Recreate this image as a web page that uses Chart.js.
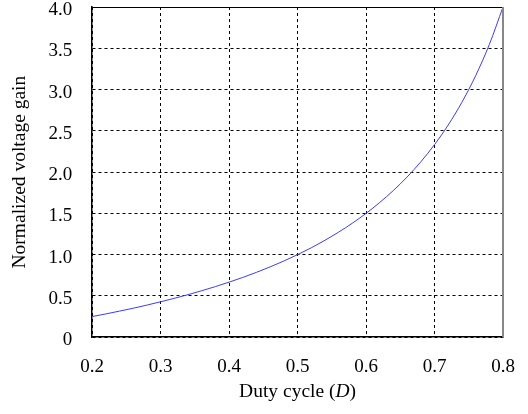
<!DOCTYPE html>
<html>
<head>
<meta charset="utf-8">
<script src="https://cdn.jsdelivr.net/npm/chart.js@4/dist/chart.umd.min.js"></script>
<style>
  html, body { margin: 0; padding: 0; background: #fff; }
  #wrap { width: 528px; height: 414px; }
</style>
</head>
<body>
<div id="wrap"><canvas id="gainChart"></canvas></div>
<script>
// Duty cycle values (x) and the normalized voltage gain read at each one (y)
var dutyCycle = [0.20, 0.22, 0.24, 0.26, 0.28, 0.30, 0.32, 0.34, 0.36, 0.38,
                 0.40, 0.42, 0.44, 0.46, 0.48, 0.50, 0.52, 0.54, 0.56, 0.58,
                 0.60, 0.62, 0.64, 0.66, 0.68, 0.70, 0.72, 0.74, 0.76, 0.78, 0.80];
var voltageGain = [0.250, 0.282, 0.316, 0.351, 0.389, 0.429, 0.471, 0.515, 0.563, 0.613,
                   0.667, 0.724, 0.786, 0.852, 0.923, 1.000, 1.083, 1.174, 1.273, 1.381,
                   1.500, 1.632, 1.778, 1.941, 2.125, 2.333, 2.571, 2.846, 3.167, 3.545, 4.000];

var xTicks = [0.2, 0.3, 0.4, 0.5, 0.6, 0.7, 0.8];
var yTicks = [0, 0.5, 1.0, 1.5, 2.0, 2.5, 3.0, 3.5, 4.0];

var serif = "'Liberation Serif', 'Times New Roman', serif";

var points = [];
for (var i = 0; i < dutyCycle.length; i++) {
    points.push({ x: dutyCycle[i], y: voltageGain[i] });
}

// top and right edges of the frame, plus the x title with an italic D
var framePlugin = {
    id: 'frame',
    afterDraw: function(chart) {
        var ctx = chart.ctx, a = chart.chartArea;
        ctx.save();
        ctx.lineWidth = 1;
        ctx.strokeStyle = '#000';
        ctx.beginPath();
        ctx.moveTo(a.left, a.top + 0.5);
        ctx.lineTo(a.right, a.top + 0.5);
        ctx.stroke();
        ctx.strokeStyle = '#888';
        ctx.lineWidth = 2;
        ctx.beginPath();
        ctx.moveTo(a.right, a.top);
        ctx.lineTo(a.right, a.bottom);
        ctx.stroke();

        var parts = [['Duty cycle (', 'normal'], ['D', 'italic'], [')', 'normal']];
        var total = 0;
        parts.forEach(function(p) {
            ctx.font = p[1] + ' 19.5px ' + serif;
            total += ctx.measureText(p[0]).width;
        });
        var x = (a.left + a.right) / 2 - total / 2;
        ctx.fillStyle = '#000';
        ctx.textBaseline = 'middle';
        parts.forEach(function(p) {
            ctx.font = p[1] + ' 19.5px ' + serif;
            ctx.fillText(p[0], x, 392);
            x += ctx.measureText(p[0]).width;
        });
        ctx.restore();
    }
};

var gridColor = function(edge) {
    return function(c) {
        return (c.tick && c.tick.value === edge) ? 'rgba(0,0,0,0)' : '#000';
    };
};

var ctx = document.getElementById('gainChart').getContext('2d');
var chart = new Chart(ctx, {
    type: 'line',
    data: {
        datasets: [{
            data: points,
            borderColor: '#3b3bff',
            borderWidth: 1,
            pointRadius: 0,
            fill: false,
            cubicInterpolationMode: 'monotone'
        }]
    },
    options: {
        responsive: true,
        maintainAspectRatio: false,
        animation: false,
        layout: { padding: { top: 7, right: 25, bottom: 18, left: 8 } },
        plugins: { legend: { display: false }, tooltip: { enabled: false } },
        scales: {
            x: {
                type: 'linear',
                min: 0.2,
                max: 0.8,
                afterBuildTicks: function(s) { s.ticks = xTicks.map(function(v) { return { value: v }; }); },
                afterFit: function(s) { s.paddingRight = 0; s.paddingLeft = 0; },
                ticks: {
                    padding: 18,
                    maxRotation: 0,
                    color: '#000',
                    font: { family: serif, size: 19 },
                    callback: function(v) { return Number(v).toFixed(1); }
                },
                grid: { color: gridColor(0.8), lineWidth: 1, drawTicks: false },
                border: { color: '#000', width: 1.5, dash: [3, 3] }
            },
            y: {
                type: 'linear',
                min: 0,
                max: 4,
                afterBuildTicks: function(s) { s.ticks = yTicks.map(function(v) { return { value: v }; }); },
                afterFit: function(s) { s.paddingTop = 0; s.paddingBottom = 0; },
                ticks: {
                    padding: 20,
                    labelOffset: 3,
                    color: '#000',
                    font: { family: serif, size: 19 },
                    callback: function(v) { return v === 0 ? '0' : Number(v).toFixed(1); }
                },
                grid: { color: gridColor(4), lineWidth: 1, drawTicks: false },
                border: { color: '#000', width: 1.5, dash: [3, 3] },
                title: {
                    display: true,
                    text: 'Normalized voltage gain',
                    color: '#000',
                    font: { family: serif, size: 19.5 },
                    padding: { top: 0, bottom: -3 }
                }
            }
        }
    },
    plugins: [framePlugin]
});
</script>
</body>
</html>
